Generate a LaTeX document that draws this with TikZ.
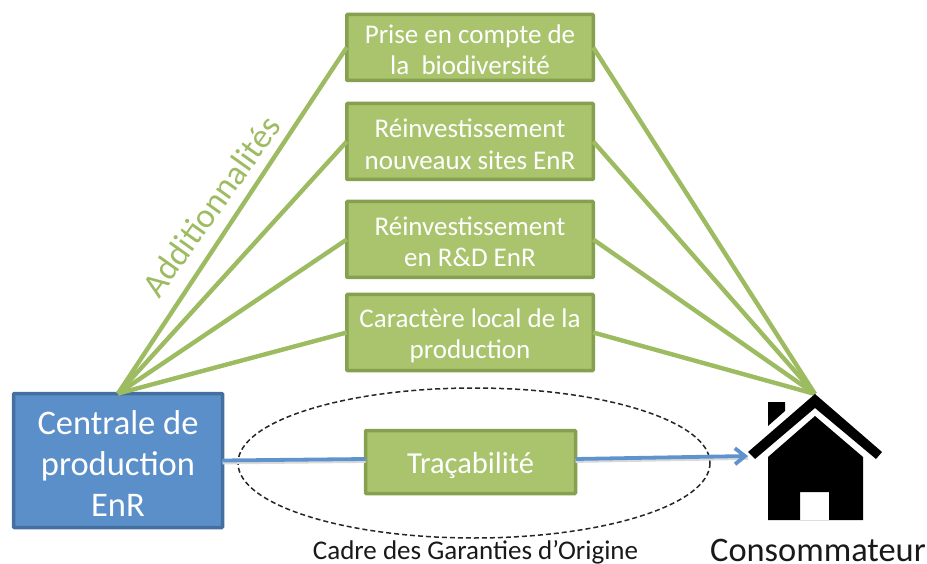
\documentclass[tikz,border=0pt]{standalone}
\usepackage{fontspec}
\setmainfont{Carlito}
\usetikzlibrary{arrows.meta}
\definecolor{gfill}{HTML}{A9C46C}
\definecolor{gline}{HTML}{85A04F}
\definecolor{bfill}{HTML}{5B8FC9}
\definecolor{bline}{HTML}{44709F}
\definecolor{glink}{HTML}{9DBB61}
\definecolor{blink}{HTML}{5F93CE}
\newcommand{\droptext}[2]{\raisebox{0pt}[\dimexpr\height+#1\relax]{#2}}
\tikzset{
  greenbox/.style={draw=gline,fill=gfill,line width=3.5pt,rounded corners=0.8pt,text=white,align=center,font=\fontsize{27}{31.5}\selectfont,inner sep=0pt,outer sep=0pt},
  bluebox/.style={draw=bline,fill=bfill,line width=3.5pt,rounded corners=0.8pt,text=white,align=center,font=\fontsize{34.5}{41}\selectfont,inner sep=0pt,outer sep=0pt},
  greenlink/.style={draw=glink,line width=4.4pt},
  bluelink/.style={draw=blink,line width=3.8pt},
  shadowlink/.style={draw=black!15,line width=3.8pt},
  caption/.style={text=black!90,inner sep=0pt},
}
\begin{document}
\begin{tikzpicture}[x=1pt,y=-1pt]
\useasboundingbox (0,0) rectangle (927,564);
\coordinate (apex) at (815,394);
\coordinate (tip) at (748,456);
% dashed ellipse
\draw[draw=black!85,dash pattern=on 5pt off 3pt,line width=1.5pt] (474,463) ellipse [x radius=236,y radius=75];
% boxes
\node[bluebox,minimum width=209pt,minimum height=134pt] (central) at (118,460.5) {\droptext{6pt}{\parbox{205pt}{\centering Centrale de\\production\\EnR}}};
\node[greenbox,minimum width=246.5pt,minimum height=66pt] (b1) at (470,47.5) {\droptext{4pt}{\parbox{240pt}{\centering Prise en compte de\\la\ \ biodiversité}}};
\node[greenbox,minimum width=246.5pt,minimum height=76pt] (b2) at (470,141.5) {\droptext{6pt}{\parbox{240pt}{\centering Réinvestissement\\nouveaux sites EnR}}};
\node[greenbox,minimum width=246.5pt,minimum height=76pt] (b3) at (470,239.5) {\droptext{5pt}{\parbox{240pt}{\centering Réinvestissement\\en R\&D EnR}}};
\node[greenbox,minimum width=246.5pt,minimum height=76pt] (b4) at (470,332.5) {\droptext{7pt}{\parbox{240pt}{\centering Caractère local de la\\production}}};
\node[greenbox,font=\fontsize{30.5}{36}\selectfont,minimum width=210pt,minimum height=63pt] (b5) at (470.5,462) {\droptext{6pt}{Traçabilité}};
% connectors
\foreach \b in {b1,b2,b3,b4}{
  \draw[greenlink] (central.north) -- (\b.west);
  \draw[greenlink] (\b.east) -- (apex);
}
\draw[shadowlink,transform canvas={yshift=-2pt}] (central.east) -- ([yshift=3pt]b5.west);
\draw[shadowlink,transform canvas={yshift=-2pt}] ([yshift=3pt]b5.east) -- (tip);
\draw[bluelink] (central.east) -- ([yshift=3pt]b5.west);
\draw[bluelink,-{Straight Barb[length=10pt,width=16pt,line width=3.8pt]}] ([yshift=3pt]b5.east) -- (tip);
% house
\fill[black] (748,452) -- (815,394) -- (882,452) -- (876,459) -- (815,408) -- (755,459) -- cycle;
\fill[black] (768,402) -- (785,402) -- (785,411) -- (768,426) -- cycle;
\fill[black,even odd rule] (815,416) -- (863,457) -- (863,520) -- (768,520) -- (768,457) -- cycle
  (800,492) rectangle (829,520);
% labels
\node[text=glink,rotate=54.5,font=\fontsize{34.5}{40}\selectfont,inner sep=0pt] (add) at (211,206) {Additionnalités};
\node[caption,font=\fontsize{27}{31}\selectfont] (cadre) at (475.5,552) {Cadre des Garanties d’Origine};
\node[caption,font=\fontsize{34.4}{40}\selectfont] (conso) at (818,550) {Consommateur};
\end{tikzpicture}
\end{document}
